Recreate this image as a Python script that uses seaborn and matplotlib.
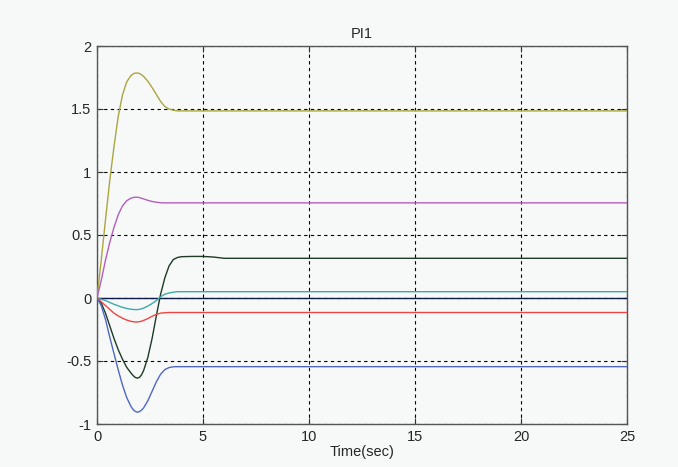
import pandas as pd
import matplotlib
matplotlib.use("Agg")
import matplotlib.pyplot as plt
import seaborn as sns

# ----------------------------
# values (time in sec)
# ----------------------------
t = [0, 0.2, 0.4, 0.6, 0.8, 1.0, 1.2, 1.4, 1.6, 1.7, 1.8, 1.9, 2.0, 2.1,
     2.2, 2.4, 2.6, 2.8, 3.0, 3.2, 3.4, 3.6, 3.8, 4.0, 4.5, 5.0, 5.5, 6.0, 25]

yellow = [0, 0.30, 0.62, 0.93, 1.20, 1.44, 1.61, 1.715, 1.765, 1.778, 1.785,
          1.786, 1.782, 1.772, 1.758, 1.72, 1.67, 1.615, 1.56, 1.52, 1.50,
          1.49, 1.485, 1.485, 1.485, 1.485, 1.485, 1.485, 1.485]
magenta = [0, 0.14, 0.30, 0.44, 0.56, 0.66, 0.73, 0.772, 0.792, 0.797, 0.80,
           0.80, 0.797, 0.792, 0.786, 0.775, 0.766, 0.76, 0.756, 0.755, 0.755,
           0.755, 0.755, 0.755, 0.755, 0.755, 0.755, 0.755, 0.755]
dkgreen = [0, -0.04, -0.12, -0.22, -0.32, -0.41, -0.485, -0.55, -0.595, -0.615,
           -0.63, -0.636, -0.63, -0.61, -0.575, -0.47, -0.32, -0.14, 0.03,
           0.16, 0.255, 0.305, 0.322, 0.328, 0.33, 0.33, 0.325, 0.315, 0.315]
teal = [0, -0.01, -0.02, -0.035, -0.05, -0.062, -0.074, -0.083, -0.089,
        -0.091, -0.092, -0.092, -0.09, -0.086, -0.08, -0.064, -0.044, -0.02,
        0.01, 0.03, 0.04, 0.046, 0.05, 0.05, 0.05, 0.05, 0.05, 0.05, 0.05]
red = [0, -0.03, -0.06, -0.09, -0.12, -0.142, -0.16, -0.175, -0.185, -0.188,
       -0.19, -0.19, -0.188, -0.184, -0.178, -0.163, -0.145, -0.13, -0.12,
       -0.117, -0.115, -0.115, -0.115, -0.115, -0.115, -0.115, -0.115,
       -0.115, -0.115]
blue = [0, -0.06, -0.17, -0.31, -0.44, -0.57, -0.69, -0.79, -0.86, -0.885,
        -0.90, -0.906, -0.902, -0.89, -0.872, -0.815, -0.74, -0.665, -0.605,
        -0.568, -0.552, -0.546, -0.545, -0.545, -0.545, -0.545, -0.545,
        -0.545, -0.545]
zero = [0] * len(t)

series = {"y7": zero, "y1": yellow, "y2": magenta, "y3": dkgreen, "y4": teal,
          "y5": red, "y6": blue}
colors = {"y1": "#aaa63e", "y2": "#b35fbb", "y3": "#1e3a24", "y4": "#3fa9a9",
          "y5": "#f04444", "y6": "#4f67c0", "y7": "#101a4a"}

df = pd.concat([pd.DataFrame({"t": t, "v": v, "s": k}) for k, v in series.items()])

# ----------------------------
# plot
# ----------------------------
sns.set_style("ticks")
plt.rcParams["font.family"] = ["Liberation Sans", "DejaVu Sans"]

bg = "#f7f9f9"
fig = plt.figure(figsize=(6.78, 4.67), dpi=100, facecolor=bg)
ax = fig.add_axes([97 / 678, 1 - 424 / 467, 530 / 678, 378 / 467])
ax.set_facecolor(bg)

sns.lineplot(data=df, x="t", y="v", hue="s", palette=colors, legend=False,
             linewidth=1.0, ax=ax, zorder=3)

ax.set_xlim(0, 25)
ax.set_ylim(-1, 2)
ax.set_xticks([0, 5, 10, 15, 20, 25])
ax.set_yticks([-1, -0.5, 0, 0.5, 1, 1.5, 2])
ax.set_yticklabels(["-1", "-0.5", "0", "0.5", "1", "1.5", "2"])
ax.grid(True, color="black", linestyle=(0, (3, 3)), linewidth=0.8)
ax.tick_params(direction="in", top=True, right=True, labelsize=10.5,
               length=4, width=0.8, color="#333333", pad=4)
for sp in ax.spines.values():
    sp.set_color("#555555")
    sp.set_linewidth(1.0)

ax.set_title("PI1", fontsize=10.5, pad=6)
ax.set_xlabel("Time(sec)", fontsize=10.5, labelpad=1)
ax.set_ylabel("")

fig.savefig("out.png", dpi=100, facecolor=bg)
